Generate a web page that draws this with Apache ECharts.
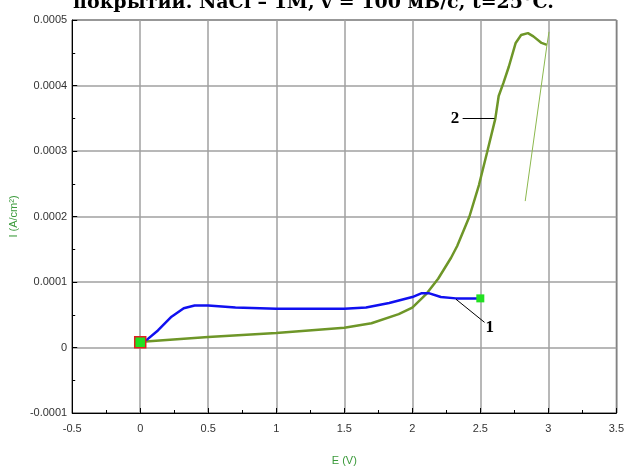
<!DOCTYPE html>
<html>
<head>
<meta charset="utf-8">
<script src="https://cdn.jsdelivr.net/npm/echarts@6/dist/echarts.min.js"></script>
<style>
  html, body { margin: 0; padding: 0; background: #fff; }
  #chart { width: 627px; height: 471px; }
</style>
</head>
<body>
<div id="chart"></div>
<script>
// curve 1 (blue)
const blueE = [0, 0.05, 0.13, 0.23, 0.32, 0.40, 0.50, 0.70, 1.00, 1.50, 1.66, 1.83, 2.00, 2.07, 2.12, 2.21, 2.32, 2.50];
const blueI = [8e-6, 1.2e-5, 2.6e-5, 4.7e-5, 6.0e-5, 6.4e-5, 6.4e-5, 6.1e-5, 5.9e-5, 5.9e-5, 6.1e-5, 6.8e-5, 7.7e-5, 8.3e-5, 8.3e-5, 7.7e-5, 7.5e-5, 7.5e-5];
// curve 2 (green), forward scan
const greenE = [0, 0.04, 0.5, 1.0, 1.5, 1.7, 1.9, 2.0, 2.1, 2.19, 2.285, 2.33, 2.42, 2.49, 2.55, 2.61, 2.635, 2.67, 2.71, 2.76, 2.80, 2.85, 2.89, 2.95, 2.99];
const greenI = [8e-6, 9e-6, 1.6e-5, 2.2e-5, 3.0e-5, 3.7e-5, 5.1e-5, 6.1e-5, 8.1e-5, 1.05e-4, 1.37e-4, 1.55e-4, 2.0e-4, 2.48e-4, 2.98e-4, 3.49e-4, 3.84e-4, 4.04e-4, 4.29e-4, 4.65e-4, 4.77e-4, 4.80e-4, 4.75e-4, 4.65e-4, 4.62e-4];
// curve 2, reverse scan (thin)
const backE = [3.005, 2.99, 2.83];
const backI = [4.82e-4, 4.62e-4, 2.235e-4];

const xTicks = { min: -0.5, max: 3.5, step: 0.5 };
const yTicks = { min: -0.0001, max: 0.0005, step: 0.0001 };

const zip = (a, b) => a.map((v, i) => [v, b[i]]);

const chart = echarts.init(document.getElementById('chart'));
chart.setOption({
  animation: false,
  title: {
    text: 'покрытии. NaCl – 1M, v = 100 мВ/с, t=25°C.',
    left: 'center',
    top: -11,
    textStyle: { fontFamily: 'DejaVu Serif', fontWeight: 'bold', fontSize: 19, color: '#000' }
  },
  grid: { left: 69, right: 6, top: 20, bottom: 55, show: true, borderColor: '#000', borderWidth: 1 },
  xAxis: {
    type: 'value',
    min: xTicks.min, max: xTicks.max, interval: xTicks.step,
    name: 'E (V)', nameLocation: 'middle', nameGap: 42,
    nameTextStyle: { color: '#3a9a3a', fontFamily: 'Arial', fontSize: 11 },
    axisLine: { onZero: false, lineStyle: { color: '#000' } },
    axisTick: { inside: true, length: 5, lineStyle: { color: '#000' } },
    minorTick: { show: true, splitNumber: 2, length: 3, lineStyle: { color: '#000' } },
    splitLine: { lineStyle: { color: '#a0a0a0', width: 1.5 } },
    axisLabel: { color: '#333', fontFamily: 'Arial', fontSize: 11, margin: 10 }
  },
  yAxis: {
    type: 'value',
    min: yTicks.min, max: yTicks.max, interval: yTicks.step,
    name: 'I (A/cm²)', nameLocation: 'middle', nameGap: 47,
    nameTextStyle: { color: '#3a9a3a', fontFamily: 'Arial', fontSize: 11 },
    axisLine: { onZero: false, lineStyle: { color: '#000' } },
    axisTick: { inside: true, length: 5, lineStyle: { color: '#000' } },
    minorTick: { show: true, splitNumber: 2, length: 3, lineStyle: { color: '#000' } },
    splitLine: { lineStyle: { color: '#a0a0a0', width: 1.5 } },
    axisLabel: {
      color: '#333', fontFamily: 'Arial', fontSize: 11, margin: 5,
      formatter: v => String(parseFloat(v.toFixed(4)))
    }
  },
  series: [
    {
      type: 'line', data: zip(greenE, greenI), showSymbol: false, symbol: 'none',
      lineStyle: { color: '#6e9628', width: 2.5 },
      markLine: {
        silent: true, symbol: ['none', 'none'], label: { show: false },
        lineStyle: { color: '#000', width: 1, type: 'solid' },
        data: [[{ coord: [2.37, 0.00035] }, { coord: [2.604, 0.00035] }]]
      },
      markPoint: {
        symbol: 'circle', symbolSize: 0,
        label: { show: true, formatter: '2', color: '#000', fontFamily: 'Liberation Serif', fontWeight: 'bold', fontSize: 17 },
        data: [{ coord: [2.314, 0.00035] }]
      }
    },
    {
      type: 'line', data: zip(backE, backI), showSymbol: false, symbol: 'none',
      lineStyle: { color: '#8cb84e', width: 1 }
    },
    {
      type: 'line', data: zip(blueE, blueI), showSymbol: false, symbol: 'none',
      lineStyle: { color: '#1010f0', width: 2.5 },
      markLine: {
        silent: true, symbol: ['none', 'none'], label: { show: false },
        lineStyle: { color: '#000', width: 1, type: 'solid' },
        data: [[{ coord: [2.321, 0.0000737] }, { coord: [2.531, 0.0000384] }]]
      },
      markPoint: {
        symbol: 'circle', symbolSize: 0,
        label: { show: true, formatter: '1', color: '#000', fontFamily: 'Liberation Serif', fontWeight: 'bold', fontSize: 17 },
        data: [{ coord: [2.57, 0.0000309] }]
      }
    },
    {
      type: 'scatter', symbol: 'rect', symbolSize: 8, z: 10,
      data: [[blueE[blueE.length - 1], blueI[blueI.length - 1]]],
      itemStyle: { color: '#22e022', opacity: 1 }
    },
    {
      type: 'scatter', symbol: 'rect', symbolSize: 11, z: 10,
      data: [[blueE[0], blueI[0]]],
      itemStyle: { color: '#22e022', opacity: 1, borderColor: '#e02020', borderWidth: 1.5 }
    }
  ]
});
</script>
</body>
</html>
